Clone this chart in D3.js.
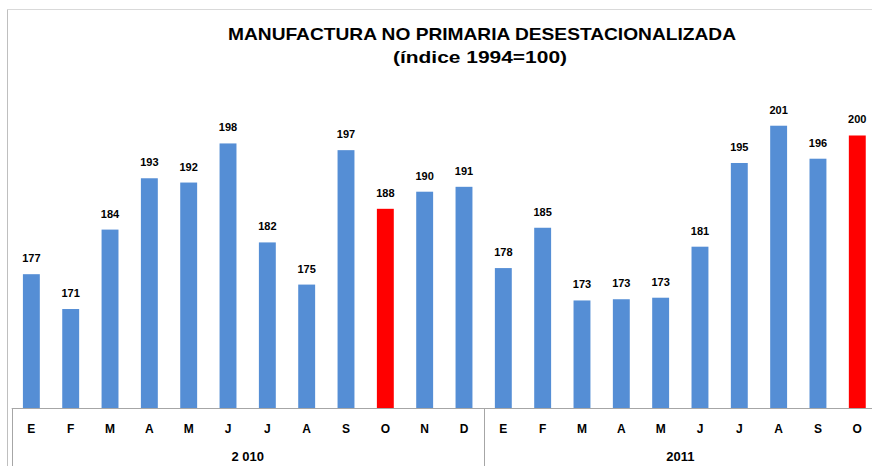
<!DOCTYPE html>
<html>
<head>
<meta charset="utf-8">
<script src="https://cdn.jsdelivr.net/npm/d3@7"></script>
<style>
  body { margin: 0; background: #fff; }
  text { font-family: "Liberation Sans", Arial, sans-serif; font-weight: bold; fill: #000; }
</style>
</head>
<body>
<div id="chart"></div>
<script>
const title = "MANUFACTURA NO PRIMARIA DESESTACIONALIZADA";
const subtitle = "(índice 1994=100)";

const years = ["2 010", "2011"];
const months2010 = ["E", "F", "M", "A", "M", "J", "J", "A", "S", "O", "N", "D"];
const months2011 = ["E", "F", "M", "A", "M", "J", "J", "A", "S", "O"];
const values2010 = [176.9, 171.2, 184.2, 192.6, 191.9, 198.3, 182.1, 175.2, 197.2, 187.6, 190.4, 191.2];
const values2011 = [177.9, 184.5, 172.6, 172.8, 173.05, 181.4, 195.1, 201.2, 195.8, 199.6];
const highlighted = ["2 010-9", "2011-9"];   // October of each year, in red

document.addEventListener("DOMContentLoaded", function() {
    const rows = [];
    months2010.forEach((m, i) => rows.push({key: years[0] + "-" + i, year: years[0], month: m, value: values2010[i]}));
    months2011.forEach((m, i) => rows.push({key: years[1] + "-" + i, year: years[1], month: m, value: values2011[i]}));
    drawChart(rows);
});

function drawChart(rows) {
    const width = 872, height = 466;
    const baseline = 408;

    const svg = d3.select("#chart").append("svg")
        .attr("width", width)
        .attr("height", height);

    // frame of the chart area
    svg.append("line").attr("x1", 7.5).attr("x2", width).attr("y1", 9.5).attr("y2", 9.5)
        .attr("stroke", "#d9d9d9").attr("stroke-width", 1);
    svg.append("line").attr("x1", 7.5).attr("x2", 7.5).attr("y1", 9.5).attr("y2", height)
        .attr("stroke", "#bfbfbf").attr("stroke-width", 1);

    const step = 39.33;
    const x = d3.scaleBand()
        .domain(rows.map(d => d.key))
        .range([11.7, 11.7 + rows.length * step])
        .paddingInner(0.57)
        .paddingOuter(0.285);

    const y = d3.scaleLinear()
        .domain([155, 205])
        .range([baseline, baseline - 50 * 6.11]);

    svg.append("text")
        .attr("x", 482).attr("y", 40)
        .attr("text-anchor", "middle")
        .attr("font-size", 17)
        .attr("textLength", 508).attr("lengthAdjust", "spacingAndGlyphs")
        .text(title);
    svg.append("text")
        .attr("x", 480).attr("y", 62.5)
        .attr("text-anchor", "middle")
        .attr("font-size", 17)
        .attr("textLength", 174).attr("lengthAdjust", "spacingAndGlyphs")
        .text(subtitle);

    svg.selectAll("rect.bar")
        .data(rows)
        .join("rect")
        .attr("class", "bar")
        .attr("x", d => x(d.key))
        .attr("width", x.bandwidth())
        .attr("y", d => y(d.value))
        .attr("height", d => baseline - y(d.value))
        .attr("fill", d => highlighted.includes(d.key) ? "#ff0000" : "#558ed5");

    svg.selectAll("text.val")
        .data(rows)
        .join("text")
        .attr("class", "val")
        .attr("x", d => x(d.key) + x.bandwidth() / 2)
        .attr("y", d => y(d.value) - 12)
        .attr("text-anchor", "middle")
        .attr("font-size", 11)
        .text(d => d3.format(".0f")(d.value));

    // month axis
    const monthOf = new Map(rows.map(d => [d.key, d.month]));
    const axis = svg.append("g")
        .attr("transform", `translate(0,${baseline})`)
        .call(d3.axisBottom(x).tickSize(0).tickPadding(16).tickFormat(k => monthOf.get(k)));
    axis.select(".domain").remove();
    axis.selectAll("text")
        .attr("font-size", 12)
        .attr("font-family", "Liberation Sans, Arial, sans-serif")
        .attr("font-weight", "bold")
        .attr("fill", "#000");

    svg.append("line")
        .attr("x1", x.range()[0]).attr("x2", width)
        .attr("y1", baseline + 0.5).attr("y2", baseline + 0.5)
        .attr("stroke", "#a6a6a6");

    // year groups
    const groups = years.map(yr => {
        const keys = rows.filter(d => d.year === yr).map(d => d.key);
        return {year: yr, x0: x(keys[0]) - x.step() * x.paddingInner() / 2,
                x1: x(keys[keys.length - 1]) + x.bandwidth() + x.step() * x.paddingInner() / 2};
    });

    svg.selectAll("line.sep")
        .data(groups)
        .join("line")
        .attr("class", "sep")
        .attr("x1", d => Math.round(d.x0) + 0.5).attr("x2", d => Math.round(d.x0) + 0.5)
        .attr("y1", baseline).attr("y2", height)
        .attr("stroke", "#a6a6a6");

    svg.selectAll("text.year")
        .data(groups)
        .join("text")
        .attr("class", "year")
        .attr("x", d => (d.x0 + d.x1) / 2)
        .attr("y", 461)
        .attr("text-anchor", "middle")
        .attr("font-size", 13)
        .text(d => d.year);
}
</script>
</body>
</html>
